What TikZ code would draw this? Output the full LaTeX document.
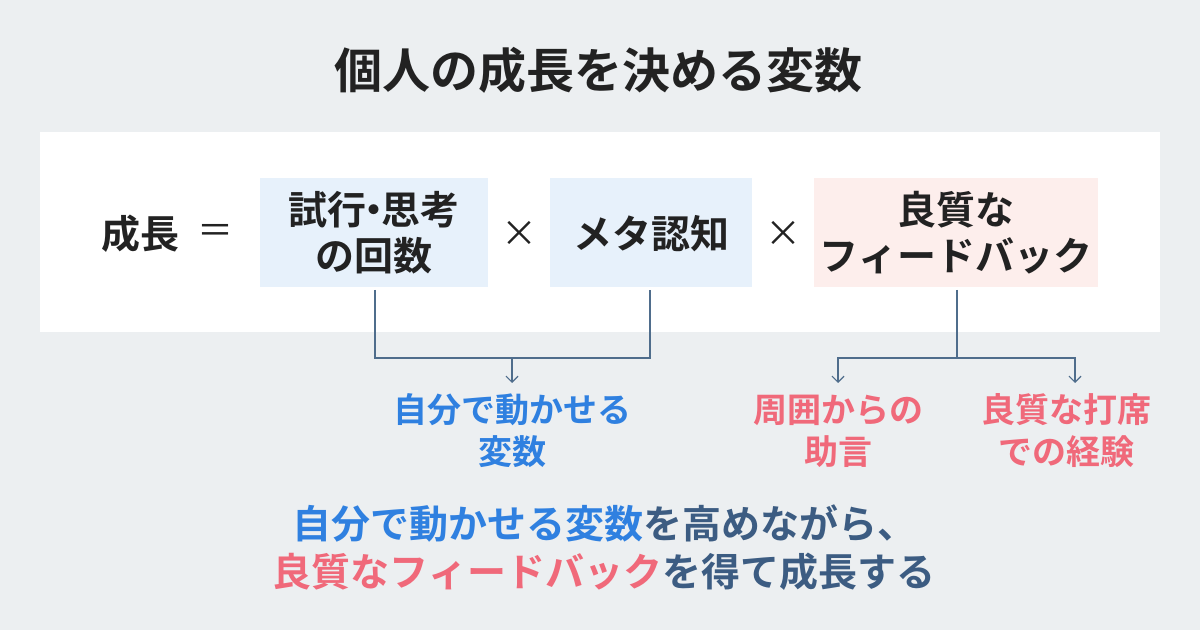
\documentclass[tikz,border=0pt]{standalone}
\usepackage{fontspec}
\setmainfont{Noto Sans CJK JP}[BoldFont={Noto Sans CJK JP Bold}]
\usetikzlibrary{positioning,arrows.meta}
\definecolor{bgcol}{HTML}{ECEFF1}
\definecolor{bluebox}{HTML}{E7F1FB}
\definecolor{pinkbox}{HTML}{FDEEEC}
\definecolor{txtcol}{HTML}{222222}
\definecolor{linecol}{HTML}{4F6D8C}
\definecolor{bluetxt}{HTML}{2F80E0}
\definecolor{pinktxt}{HTML}{F0697A}
\definecolor{navytxt}{HTML}{3C5C82}
\tikzset{
  term/.style={inner sep=0pt, align=center, text=txtcol, font=\fontsize{19.5}{23}\selectfont\bfseries},
  conn/.style={draw=linecol, line width=0.6pt},
  arr/.style={conn, -{Straight Barb[length=3pt,width=6pt]}},
  lbl/.style={align=center, font=\fontsize{17}{21}\selectfont\bfseries}
}
\begin{document}
\begin{tikzpicture}[x=0.5pt,y=-0.5pt]
\fill[bgcol] (0,0) rectangle (1200,630);
\useasboundingbox (0,0) rectangle (1200,630);
\fill[white] (40,132) rectangle (1160,332);
% boxes
\fill[bluebox] (260,178) rectangle (488,287);
\fill[bluebox] (550,178) rectangle (752,287);
\fill[pinkbox] (814,178) rectangle (1098,287);
\node[font=\fontsize{24}{28}\selectfont\bfseries, text=txtcol] (title) at (598,70) {個人の成長を決める変数};
\node[term] (growth) at (140,234) {成長};
\node[term, font=\fontsize{18}{22}\selectfont] (eq) at (215,234) {＝};
\node[term] (trial) at (374,233) {試行\kern-0.3em・\kern-0.3em思考\\の回数};
\node[term, font=\fontsize{18}{22}\selectfont] (x1) at (519,234) {×};
\node[term] (meta) at (651,234) {メタ認知};
\node[term, font=\fontsize{18}{22}\selectfont] (x2) at (783,234) {×};
\node[term] (fb) at (956,233) {良質な\\フィードバック};
% connectors
\coordinate (t0) at (375,290);
\coordinate (m0) at (650,290);
\coordinate (f0) at (957,290);
\coordinate (tm) at (512,358);
\coordinate (fm) at (957,358);
\node[lbl, text=bluetxt] (self) at (512,431) {自分で動かせる\\変数};
\node[lbl, text=pinktxt] (advice) at (838,431) {周囲からの\\助言};
\node[lbl, text=pinktxt] (bat) at (1066,431) {良質な打席\\での経験};
\draw[conn] (t0) |- (m0 |- tm) -- (m0);
\draw[arr] (tm) -- (tm |- 0,383);
\draw[conn] (f0) -- (fm);
\draw[arr] (fm) -| (838,383);
\draw[arr] (fm) -| (1075,383);
\node[lbl, font=\fontsize{19.5}{24}\selectfont\bfseries, text=navytxt] (msg) at (604,548)
  {\textcolor{bluetxt}{自分で動かせる変数}を高めながら、\\\textcolor{pinktxt}{良質なフィードバック}を得て成長する};
\end{tikzpicture}
\end{document}
